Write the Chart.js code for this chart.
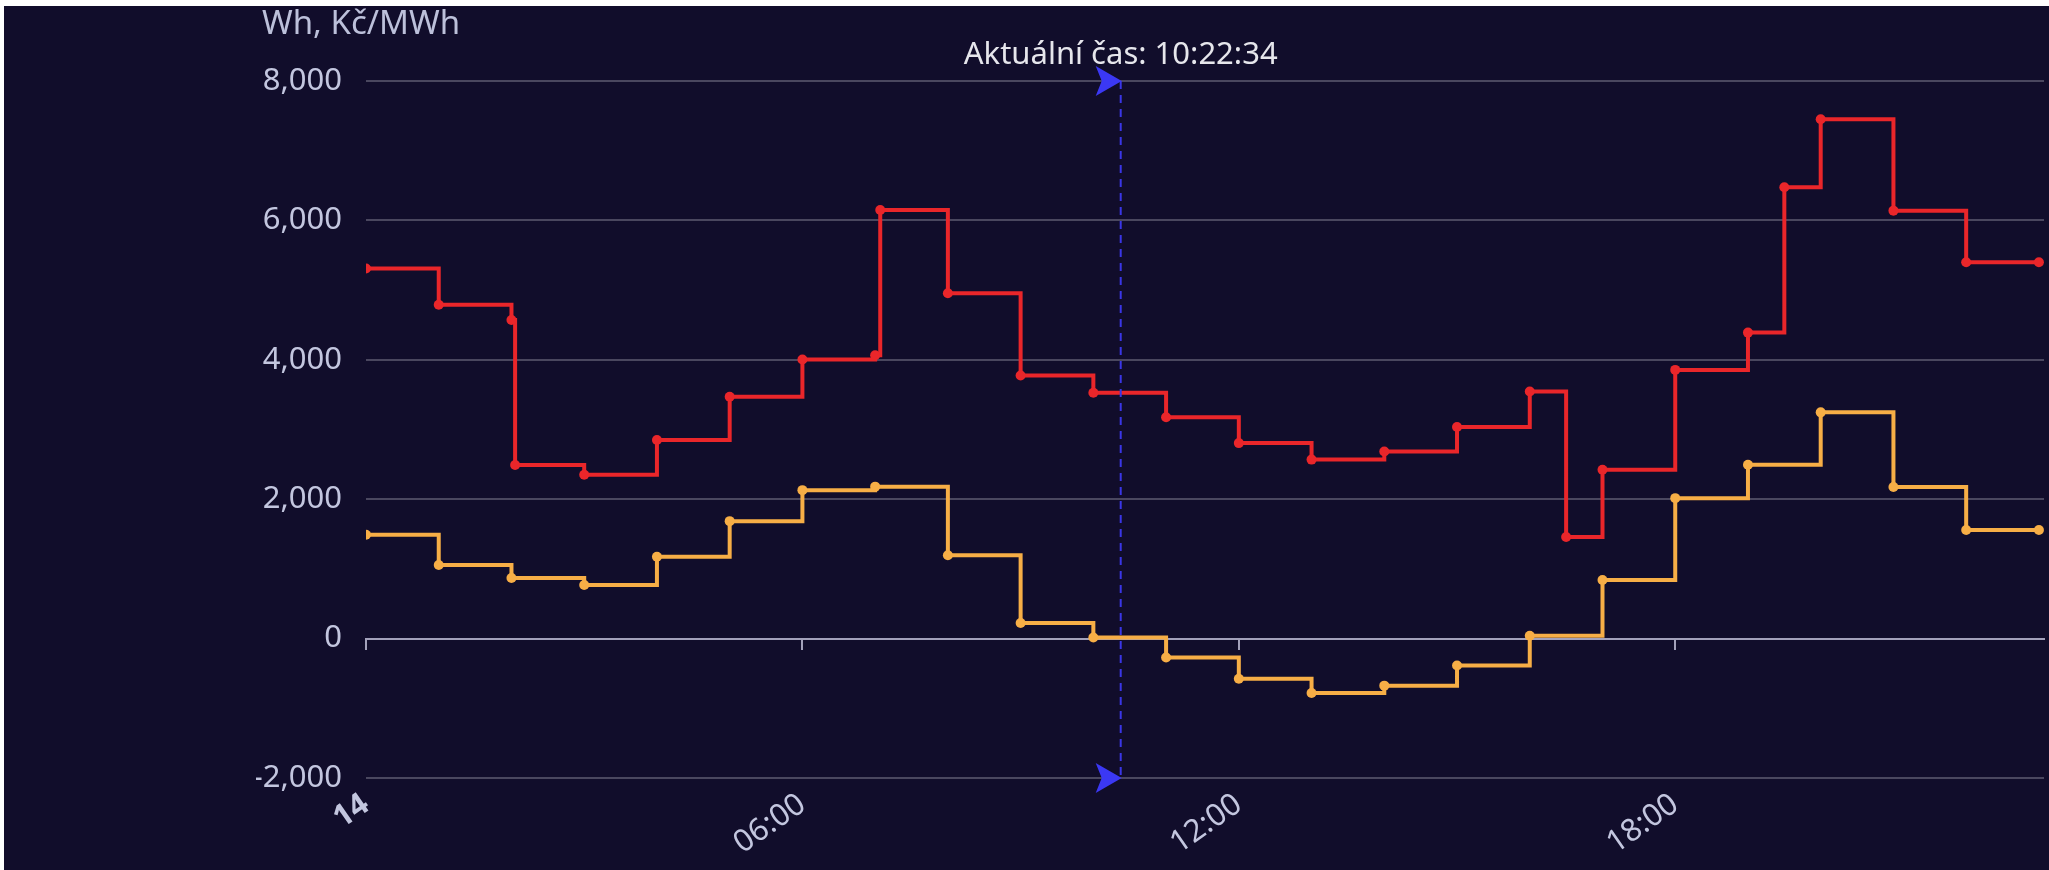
<!DOCTYPE html>
<html>
<head>
<meta charset="utf-8">
<script src="https://cdn.jsdelivr.net/npm/chart.js@4.4.1/dist/chart.umd.min.js"></script>
<style>
    html, body { margin: 0; padding: 0; background: #fff; overflow: hidden; }
    #obal { position: absolute; left: 4px; top: 6px; width: 2045px; height: 864px; background: #110d2b; }
</style>
</head>
<body>
<div id="obal"><canvas id="graf"></canvas></div>
<script>
// hodiny od půlnoci (0 = 14.), cena elektřiny Kč/MWh
const hodinyCena = [0, 1, 2, 2.05, 3, 4, 5, 6, 7, 7.07, 8, 9, 10, 11, 12, 13, 14, 15, 16, 16.5, 17, 18, 19, 19.5, 20, 21, 22, 23];
const cena = [5310, 4790, 4570, 2490, 2350, 2850, 3470, 4005, 4065, 6150, 4955, 3775, 3527, 3175, 2805, 2568, 2685, 3035, 3546, 1458, 2423, 3855, 4390, 6475, 7450, 6140, 5400, 5400];

// výroba / spotřeba Wh po hodinách
const hodinyVyroba = [0, 1, 2, 3, 4, 5, 6, 7, 8, 9, 10, 11, 12, 13, 14, 15, 16, 17, 18, 19, 20, 21, 22, 23];
const vyroba = [1490, 1055, 870, 770, 1175, 1685, 2130, 2180, 1195, 225, 15, -270, -575, -780, -675, -385, 40, 840, 2015, 2495, 3246, 2176, 1557, 1557];

// osy
const osaXHodiny = [0, 6, 12, 18];
const osaXPopisky = ["14", "06:00", "12:00", "18:00"];
const osaYMin = -2000;
const osaYMax = 8000;
const osaXMax = 23.07;

const aktualniCas = "10:22:34";
const nadpisOsy = "Wh, Kč/MWh";

const casHodiny = (() => {
    const [h, m, s] = aktualniCas.split(":").map(Number);
    return h + m / 60 + s / 3600;
})();

Chart.defaults.font.family = "'Noto Sans', sans-serif";
Chart.defaults.font.size = 31;
Chart.defaults.color = "#c3c6df";

// svislá čára aktuálního času + popisek osy
const casPlugin = {
    id: "aktualniCas",
    afterDatasetsDraw(chart) {
        const { ctx, chartArea, scales } = chart;
        const px = scales.x.getPixelForValue(casHodiny);
        const top = scales.y.getPixelForValue(osaYMax);
        const bottom = scales.y.getPixelForValue(osaYMin);

        ctx.save();
        ctx.strokeStyle = "#3a36e6";
        ctx.lineWidth = 2;
        ctx.setLineDash([8, 6]);
        ctx.beginPath();
        ctx.moveTo(px, top);
        ctx.lineTo(px, bottom);
        ctx.stroke();
        ctx.setLineDash([]);

        ctx.fillStyle = "#3b38f4";
        [top, bottom].forEach(yy => {
            ctx.beginPath();
            ctx.moveTo(px + 1, yy);
            ctx.lineTo(px - 25, yy - 15);
            ctx.lineTo(px - 19, yy);
            ctx.lineTo(px - 25, yy + 15);
            ctx.closePath();
            ctx.fill();
        });

        ctx.font = "31px 'Noto Sans', sans-serif";
        ctx.fillStyle = "#e6e6ec";
        ctx.textAlign = "center";
        ctx.textBaseline = "alphabetic";
        ctx.fillText("Aktuální čas: " + aktualniCas, px, top - 17);

        ctx.font = "33px 'Noto Sans', sans-serif";
        ctx.textAlign = "left";
        ctx.fillStyle = "#bcc0da";
        ctx.fillText(nadpisOsy, chartArea.left - 104, chartArea.top - 47);
        ctx.restore();
    }
};

const popisekX = (v) => {
    const i = osaXHodiny.indexOf(v);
    return i >= 0 ? osaXPopisky[i] : "";
};

new Chart(document.getElementById("graf"), {
    type: "line",
    data: {
        datasets: [
            {
                label: "Cena",
                data: hodinyCena.map((h, i) => ({ x: h, y: cena[i] })),
                borderColor: "#ea262a",
                backgroundColor: "#ea262a",
                borderWidth: 4,
                stepped: true,
                pointRadius: 5,
                pointBorderWidth: 0
            },
            {
                label: "Výroba",
                data: hodinyVyroba.map((h, i) => ({ x: h, y: vyroba[i] })),
                borderColor: "#f7ae46",
                backgroundColor: "#f7ae46",
                borderWidth: 4,
                stepped: true,
                pointRadius: 5,
                pointBorderWidth: 0
            }
        ]
    },
    options: {
        responsive: true,
        maintainAspectRatio: false,
        animation: false,
        layout: { padding: { left: 252, top: 75, right: 0, bottom: 0 } },
        plugins: {
            legend: { display: false },
            tooltip: { enabled: false }
        },
        scales: {
            x: {
                type: "linear",
                min: 0,
                max: osaXMax,
                border: { display: false },
                grid: { display: false, drawTicks: false },
                afterBuildTicks: (s) => { s.ticks = osaXHodiny.map(v => ({ value: v })); },
                afterFit: (s) => { s.height = 92; },
                ticks: {
                    padding: 8,
                    minRotation: 35,
                    maxRotation: 35,
                    color: "#c3c6df",
                    font: (c) => ({ size: 31, weight: c.tick && c.tick.value === 0 ? "bold" : "normal" }),
                    callback: (v) => popisekX(v)
                }
            },
            x2: {
                type: "linear",
                position: { y: 0 },
                min: 0,
                max: osaXMax,
                afterBuildTicks: (s) => { s.ticks = osaXHodiny.map(v => ({ value: v })); },
                border: { display: true, color: "#a3a1bb", width: 2 },
                grid: { drawOnChartArea: false, drawTicks: true, tickLength: 10, color: "#a3a1bb", lineWidth: 2 },
                ticks: { display: false }
            },
            y: {
                min: osaYMin,
                max: osaYMax,
                afterFit: (s) => { s.width = 110; },
                border: { display: false },
                grid: { color: "#4a475f", lineWidth: 2, drawTicks: false },
                ticks: {
                    stepSize: 2000,
                    padding: 24,
                    color: "#c3c6df",
                    callback: (v) => v.toLocaleString("en-US")
                }
            }
        }
    },
    plugins: [casPlugin]
});
</script>
</body>
</html>
